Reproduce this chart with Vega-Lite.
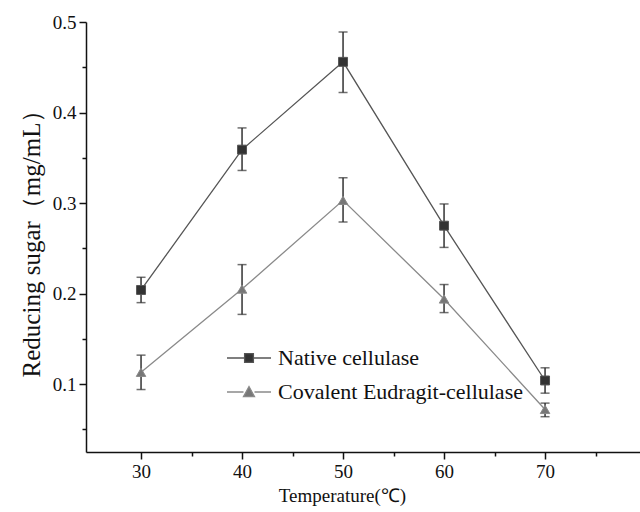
{
  "$schema": "https://vega.github.io/schema/vega-lite/v6.json",
  "width": 554,
  "height": 430,
  "autosize": "none",
  "padding": {"left": 86, "top": 22, "right": 0, "bottom": 60},
  "background": "white",
  "config": {
    "view": {"stroke": null},
    "font": "Liberation Serif",
    "axis": {
      "domainColor": "#111",
      "domainWidth": 1.5,
      "tickColor": "#111",
      "tickWidth": 1.5,
      "grid": false,
      "labelFont": "Liberation Serif",
      "labelFontSize": 19,
      "labelColor": "#111",
      "titleFont": "Liberation Serif",
      "titleFontSize": 19,
      "titleFontWeight": "normal",
      "titleColor": "#111"
    }
  },
  "data": {
    "values": [
      {"temp": 30, "sugar": 0.204, "lo": 0.190, "hi": 0.218, "series": "Native cellulase"},
      {"temp": 40, "sugar": 0.359, "lo": 0.336, "hi": 0.383, "series": "Native cellulase"},
      {"temp": 50, "sugar": 0.456, "lo": 0.422, "hi": 0.489, "series": "Native cellulase"},
      {"temp": 60, "sugar": 0.275, "lo": 0.251, "hi": 0.299, "series": "Native cellulase"},
      {"temp": 70, "sugar": 0.104, "lo": 0.090, "hi": 0.118, "series": "Native cellulase"},
      {"temp": 30, "sugar": 0.113, "lo": 0.094, "hi": 0.132, "series": "Covalent Eudragit-cellulase"},
      {"temp": 40, "sugar": 0.205, "lo": 0.177, "hi": 0.232, "series": "Covalent Eudragit-cellulase"},
      {"temp": 50, "sugar": 0.303, "lo": 0.279, "hi": 0.328, "series": "Covalent Eudragit-cellulase"},
      {"temp": 60, "sugar": 0.194, "lo": 0.179, "hi": 0.210, "series": "Covalent Eudragit-cellulase"},
      {"temp": 70, "sugar": 0.072, "lo": 0.064, "hi": 0.079, "series": "Covalent Eudragit-cellulase"}
    ]
  },
  "encoding": {
    "x": {
      "field": "temp",
      "type": "quantitative",
      "scale": {"domain": [24.55, 79.4], "nice": false, "zero": false},
      "axis": {
        "title": "Temperature(℃)",
        "values": [30, 35, 40, 45, 50, 55, 60, 65, 70, 75],
        "labelExpr": "datum.value % 10 === 0 ? datum.label : ''",
        "tickSize": {"condition": {"test": "datum.value % 10 !== 0", "value": 4}, "value": 7},
        "labelPadding": 3,
        "titleX": 256,
        "titlePadding": 5
      }
    },
    "y": {
      "field": "sugar",
      "type": "quantitative",
      "scale": {"domain": [0.025, 0.5], "nice": false, "zero": false},
      "axis": {
        "title": "Reducing sugar（mg/mL）",
        "titleFontSize": 25,
        "values": [0.05, 0.1, 0.15, 0.2, 0.25, 0.3, 0.35, 0.4, 0.45, 0.5],
        "labelExpr": "round(datum.value * 100) % 10 === 0 ? format(datum.value, '.1f') : ''",
        "tickSize": {"condition": {"test": "round(datum.value * 100) % 10 !== 0", "value": 4}, "value": 7},
        "labelPadding": 3,
        "titlePadding": 8
      }
    }
  },
  "layer": [
    {
      "mark": {"type": "line", "strokeWidth": 1.3},
      "encoding": {
        "detail": {"field": "series", "type": "nominal"},
        "color": {"condition": {"test": "datum.series === 'Native cellulase'", "value": "#555555"}, "value": "#8a8a8a"}
      }
    },
    {
      "mark": {"type": "errorbar", "ticks": {"size": 9, "thickness": 1.5}, "thickness": 1.5},
      "encoding": {
        "y": {"field": "lo", "type": "quantitative"},
        "y2": {"field": "hi"},
        "color": {"value": "#333333"}
      }
    },
    {
      "transform": [{"filter": "datum.series === 'Native cellulase'"}],
      "mark": {"type": "point", "shape": "square", "filled": true, "opacity": 1, "fill": "#333333", "stroke": "#555555", "strokeWidth": 1, "size": 80}
    },
    {
      "transform": [{"filter": "datum.series === 'Covalent Eudragit-cellulase'"}],
      "mark": {"type": "point", "shape": "triangle-up", "filled": true, "opacity": 1, "fill": "#777777", "stroke": "#8a8a8a", "strokeWidth": 1, "size": 90}
    },
    {
      "mark": {"type": "point", "filled": true, "opacity": 0, "strokeWidth": 1.3},
      "encoding": {
        "shape": {
          "field": "series",
          "type": "nominal",
          "scale": {
            "domain": ["Native cellulase", "Covalent Eudragit-cellulase"],
            "range": ["M-1,0H-0.2M0.2,0H1M-0.2,-0.2H0.2V0.2H-0.2Z", "M-1,0H-0.25M0.25,0H1M-0.25,0.21L0,-0.25L0.25,0.21Z"]
          },
          "legend": {
            "title": null,
            "orient": "none",
            "legendX": 140,
            "legendY": 313,
            "labelFont": "Liberation Serif",
            "labelFontSize": 22,
            "labelColor": "#111",
            "labelLimit": 400,
            "labelOffset": 6,
            "rowPadding": -19,
            "symbolSize": 1936,
            "symbolStrokeWidth": 1.3,
            "symbolOpacity": 1
          }
        },
        "fill": {
          "field": "series",
          "type": "nominal",
          "scale": {"domain": ["Native cellulase", "Covalent Eudragit-cellulase"], "range": ["#333333", "#777777"]},
          "legend": {
            "title": null,
            "orient": "none",
            "legendX": 140,
            "legendY": 313
          }
        },
        "stroke": {
          "field": "series",
          "type": "nominal",
          "scale": {"domain": ["Native cellulase", "Covalent Eudragit-cellulase"], "range": ["#555555", "#8a8a8a"]},
          "legend": {
            "title": null,
            "orient": "none",
            "legendX": 140,
            "legendY": 313
          }
        },
        "size": {"value": 1936}
      }
    }
  ]
}
